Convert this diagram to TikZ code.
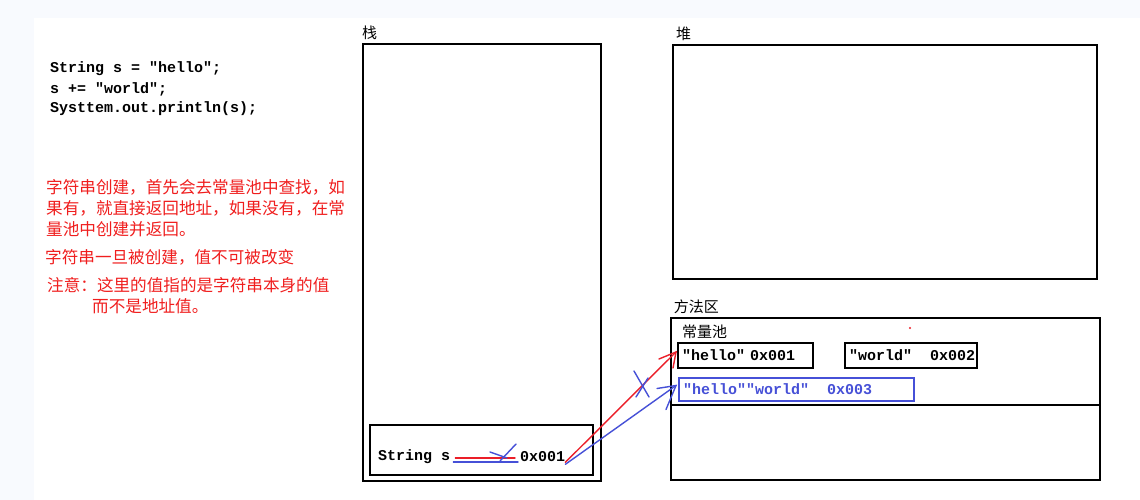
\documentclass[tikz,border=0pt]{standalone}
\usepackage{fontspec}
\setmonofont{Liberation Mono}
\newfontfamily\cjk{Noto Sans CJK SC}
\usepackage{tikz}
\usetikzlibrary{positioning}

\definecolor{penred}{RGB}{235,30,40}
\definecolor{penblue}{RGB}{70,80,215}
\definecolor{notered}{RGB}{240,30,30}
\definecolor{pagetint}{RGB}{248,250,254}

\tikzset{
  area/.style={draw,line width=2pt,inner sep=0pt},
  cell/.style={draw,line width=2pt,inner xsep=4pt,inner ysep=0pt,minimum height=25pt,
    align=left,font=\ttfamily\bfseries\fontsize{15}{15}\selectfont},
  title/.style={anchor=south west,inner sep=0pt,font=\cjk\fontsize{15}{15}\selectfont},
  code/.style={anchor=west,inner sep=0pt,font=\ttfamily\bfseries\fontsize{15}{15}\selectfont},
  note/.style={anchor=west,inner sep=0pt,text=notered,font=\cjk\fontsize{16.6}{16.6}\selectfont},
  pen/.style={line width=1.4pt,line cap=round},
}

\begin{document}
\begin{tikzpicture}[x=1pt,y=-1pt]
      \useasboundingbox (0,0) rectangle (1140,500);
      \fill[pagetint] (0,0) rectangle (1140,500);
      \fill[white] (34,18) rectangle (1140,500);

      % code and notes
      \node[code] (c1) at (50,69) {String s = "hello";};
      \node[code] (c2) at (50,89) {s += "world";};
      \node[code] (c3) at (50,109) {Systtem.out.println(s);};

      \node[note] (n1) at (46,187) {字符串创建，首先会去常量池中查找，如};
      \node[note] (n2) at (46,208) {果有，就直接返回地址，如果没有，在常};
      \node[note] (n3) at (46,229) {量池中创建并返回。};
      \node[note] (n4) at (45,257) {字符串一旦被创建，值不可被改变};
      \node[note] (n5) at (47,285) {注意：这里的值指的是字符串本身的值};
      \node[note] (n6) at (92,306) {而不是地址值。};

      % stack
      \node[area,minimum width=238pt,minimum height=437pt] (stack) at (482,262.5) {};
      \node[title,yshift=3pt] (stacktitle) at (stack.north west) {栈};
      \node[area,minimum width=223pt,minimum height=50pt] (frame) at (481.5,450) {};
      \node[code] (var) at (378,457) {String s};
      \node[code] (addr) at (520,457) {0x001};

      % heap
      \node[area,minimum width=424pt,minimum height=234pt] (heap) at (885,162) {};
      \node[title,xshift=4pt,yshift=3pt] (heaptitle) at (heap.north west) {堆};

      % method area
      \node[area,line width=2.6pt,minimum width=429pt,minimum height=162pt] (method) at (885.5,399) {};
      \node[title,xshift=4pt,yshift=3pt] (methodtitle) at (method.north west) {方法区};
      \draw[line width=2pt] (671,405) -- (1100,405);
      \node[title,anchor=west] (pool) at (682,332) {常量池};
      \node[cell,text width=127pt] (hello) at (745.5,355) {"hello" 0x001};
      \node[cell,text width=124pt,inner xsep=4pt] (world) at (911,355) {"world"\hspace*{18pt}0x002};
      \node[cell,draw=penblue,text=penblue,text width=227pt,minimum height=23pt] (hw) at (796.5,389.5) {"hello""world"\hspace*{18pt}0x003};
      \fill[penred] (910,328) circle (1.2pt);

      \draw[penred,pen] ([xshift=5pt,yshift=-1pt]var.east) -- ([xshift=-5pt,yshift=-1pt]addr.west);
      \draw[penblue,pen] ([xshift=3pt,yshift=-5pt]var.east) -- ([xshift=-2pt,yshift=-5pt]addr.west);
      \draw[penblue,pen] (490,452) -- (507,458);
      \draw[penblue,pen] (516,444) -- (500,461);

      % pointers, heads drawn by hand
      \coordinate (redtip) at ([xshift=-1pt,yshift=3pt]hello.west);
      \coordinate (bluetip) at ([xshift=-2pt,yshift=4pt]hw.west);
      \draw[penred,pen] (addr.south east) -- (redtip);
      \draw[penred,pen] ([shift={(-17pt,-7pt)}]redtip) -- (redtip) -- ([shift={(-3pt,-16pt)}]redtip);
      \draw[penblue,pen] ([yshift=-2pt]addr.south east) -- (bluetip);
      \draw[penblue,pen] ([shift={(-19pt,-3pt)}]bluetip) -- (bluetip) -- ([shift={(-10pt,-24pt)}]bluetip);
      \draw[penblue,pen] (634,371) -- (649,397);
      \draw[penblue,pen] (636,397) -- (648,378);
    \end{tikzpicture}
\end{document}
